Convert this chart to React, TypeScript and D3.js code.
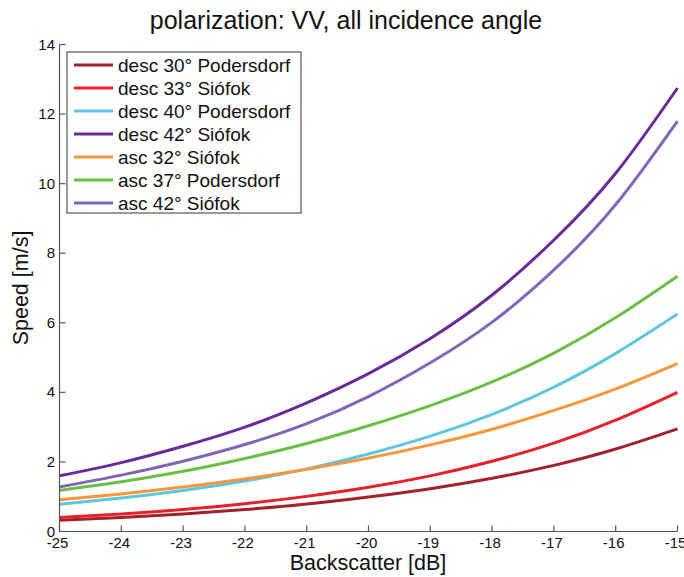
import React from "react";
import * as d3 from "d3";

const backscatter = [-25, -24, -23, -22, -21, -20, -19, -18, -17, -16, -15];
const seriesNames = [
  "desc 30° Podersdorf",
  "desc 33° Siófok",
  "desc 40° Podersdorf",
  "desc 42° Siófok",
  "asc 32° Siófok",
  "asc 37° Podersdorf",
  "asc 42° Siófok",
];
const desc30 = [0.32, 0.4, 0.5, 0.63, 0.79, 0.99, 1.23, 1.53, 1.9, 2.37, 2.95];
const desc33 = [0.4, 0.5, 0.63, 0.8, 1.01, 1.27, 1.6, 2.02, 2.54, 3.2, 4.0];
const desc40 = [0.78, 0.96, 1.18, 1.45, 1.8, 2.23, 2.74, 3.37, 4.15, 5.12, 6.25];
const desc42 = [1.6, 1.98, 2.45, 3.0, 3.7, 4.54, 5.55, 6.8, 8.38, 10.3, 12.75];
const asc32 = [0.91, 1.08, 1.28, 1.51, 1.79, 2.11, 2.49, 2.94, 3.48, 4.1, 4.83];
const asc37 = [1.18, 1.43, 1.73, 2.1, 2.53, 3.04, 3.62, 4.3, 5.13, 6.15, 7.34];
const asc42 = [1.28, 1.62, 2.02, 2.5, 3.1, 3.88, 4.85, 6.02, 7.52, 9.4, 11.8];
const seriesValues = [desc30, desc33, desc40, desc42, asc32, asc37, asc42];
const colors = ["#A3222A", "#E8202A", "#5EC6DE", "#6A2A9A", "#F7963A", "#6BBF45", "#7E67B8"];
const xTicks = [-25, -24, -23, -22, -21, -20, -19, -18, -17, -16, -15];
const yTicks = [0, 2, 4, 6, 8, 10, 12, 14];

const W = 684;
const H = 577;
const L = 59.5;
const R = 677.5;
const T = 44.5;
const B = 531.5;

export default function App() {
  const x = d3.scaleLinear().domain([-25, -15]).range([L, R]);
  const y = d3.scaleLinear().domain([0, 14]).range([B, T]);
  const line = d3
    .line<[number, number]>()
    .x((d) => x(d[0]))
    .y((d) => y(d[1]))
    .curve(d3.curveNatural);
  const font = "Liberation Sans, Arial, sans-serif";
  const legX = 67;
  const legY = 52;
  const legRow = 23;

  return (
    <svg
      width={W}
      height={H}
      style={{ position: "absolute", left: 0, top: 0, background: "#fff" }}
      fontFamily={font}
    >
      <rect x={0} y={0} width={W} height={H} fill="#fff" />
      <text x={346} y={29} textAnchor="middle" fontSize={25} fill="#111">
        polarization: VV, all incidence angle
      </text>
      {seriesValues.map((vals, i) => (
        <path
          key={i}
          d={line(backscatter.map((b, j) => [b, vals[j]] as [number, number])) || ""}
          fill="none"
          stroke={colors[i]}
          strokeWidth={3}
        />
      ))}
      {/* axes */}
      <line x1={L} x2={R} y1={B} y2={B} stroke="#555" strokeWidth={1.2} />
      <line x1={L} x2={L} y1={B} y2={T} stroke="#555" strokeWidth={1.2} />
      {xTicks.map((t) => (
        <g key={"x" + t}>
          <line x1={x(t)} x2={x(t)} y1={B} y2={B - 6} stroke="#555" strokeWidth={1.2} />
          <text x={x(t) - 2} y={548} textAnchor="middle" fontSize={15} fill="#111">
            {t}
          </text>
        </g>
      ))}
      {yTicks.map((t) => (
        <g key={"y" + t}>
          <line x1={L} x2={L + 6} y1={y(t)} y2={y(t)} stroke="#555" strokeWidth={1.2} />
          <text x={55} y={y(t) + 5} textAnchor="end" fontSize={15} fill="#111">
            {t}
          </text>
        </g>
      ))}
      <text x={368} y={570} textAnchor="middle" fontSize={21.5} fill="#111">
        Backscatter [dB]
      </text>
      <text
        transform={`translate(28, ${(T + B) / 2}) rotate(-90)`}
        textAnchor="middle"
        fontSize={21.5}
        fill="#111"
      >
        Speed [m/s]
      </text>
      {/* legend */}
      <rect x={legX} y={legY} width={234} height={161} fill="#fff" stroke="#555" strokeWidth={1.2} />
      {seriesNames.map((n, i) => (
        <g key={n}>
          <line
            x1={74}
            x2={113}
            y1={legY + 13 + i * legRow}
            y2={legY + 13 + i * legRow}
            stroke={colors[i]}
            strokeWidth={3}
          />
          <text x={118} y={legY + 19.5 + i * legRow} fontSize={19} fill="#111">
            {n}
          </text>
        </g>
      ))}
    </svg>
  );
}
